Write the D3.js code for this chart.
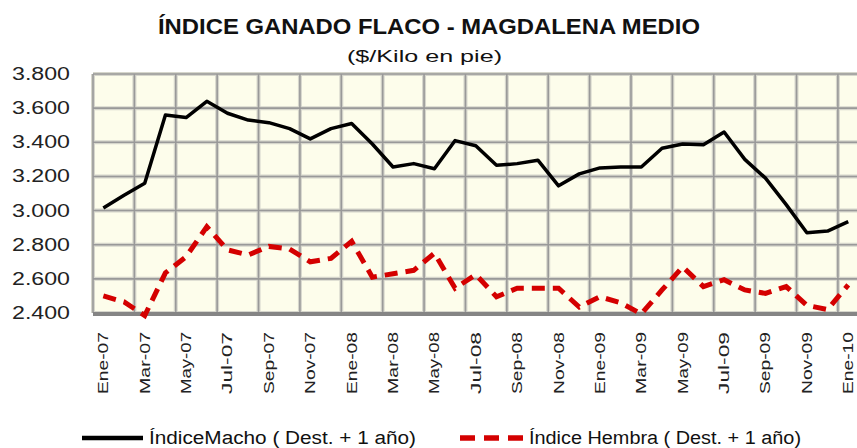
<!DOCTYPE html>
<html>
<head>
<meta charset="utf-8">
<script src="https://cdn.jsdelivr.net/npm/d3@7"></script>
<style>
  body { margin: 0; background: #fff; }
  svg { display: block; font-family: "Liberation Sans", Arial, sans-serif; }
</style>
</head>
<body>
<div id="chart"></div>
<script>

// meses (categorias)
var meses = ["Ene-07","Feb-07","Mar-07","Abr-07","May-07","Jun-07","Jul-07","Ago-07","Sep-07","Oct-07","Nov-07","Dic-07",
             "Ene-08","Feb-08","Mar-08","Abr-08","May-08","Jun-08","Jul-08","Ago-08","Sep-08","Oct-08","Nov-08","Dic-08",
             "Ene-09","Feb-09","Mar-09","Abr-09","May-09","Jun-09","Jul-09","Ago-09","Sep-09","Oct-09","Nov-09","Dic-09",
             "Ene-10"];

// indice macho ($/kilo)
var macho = [3015,3090,3160,3560,3545,3640,3570,3530,3515,3480,3420,3480,
             3510,3390,3255,3275,3245,3410,3380,3265,3275,3295,3145,3215,
             3250,3255,3255,3365,3390,3385,3460,3300,3190,3035,2870,2880,
             2935];

// indice hembra ($/kilo)
var hembra = [2500,2465,2385,2635,2730,2905,2770,2740,2790,2775,2700,2720,
              2820,2610,2630,2650,2750,2545,2625,2495,2545,2545,2545,2435,
              2495,2460,2395,2535,2670,2555,2595,2535,2515,2555,2445,2420,
              2565];

var yTicks = [2400,2600,2800,3000,3200,3400,3600,3800];

var W = 857, H = 448;
var plot = {left: 93, right: 858.6, top: 74, bottom: 313};

var svg = d3.select("#chart").append("svg")
    .attr("width", W)
    .attr("height", H);

var x = d3.scaleBand().domain(meses).range([plot.left, plot.right]);
var xc = function(d){ return x(d) + x.bandwidth()/2; };
var y = d3.scaleLinear().domain([2400, 3800]).range([plot.bottom, plot.top]);

// titulo
svg.append("text")
  .attr("x", 158).attr("y", 34)
  .attr("textLength", 542).attr("lengthAdjust", "spacingAndGlyphs")
  .style("font-size", "22px").style("font-weight", "bold").style("fill", "#111")
  .text("ÍNDICE GANADO FLACO - MAGDALENA MEDIO");

svg.append("text")
  .attr("x", 347).attr("y", 62)
  .attr("textLength", 155).attr("lengthAdjust", "spacingAndGlyphs")
  .style("font-size", "17px").style("fill", "#111")
  .text("($/Kilo en pie)");

// fondo del area
svg.append("rect")
  .attr("x", plot.left).attr("y", plot.top)
  .attr("width", plot.right - plot.left).attr("height", plot.bottom - plot.top)
  .style("fill", "#fdfdeb");

var grid = svg.append("g");
var vIdx = meses.filter(function(d, i){ return i % 2 == 0; });

// halo + linea (las lineas de la imagen se ven borrosas)
[["#d6d6cc", 4], ["#999", 1.6]].forEach(function(s){
  grid.selectAll(null).data(yTicks).enter().append("line")
    .attr("x1", plot.left).attr("x2", plot.right)
    .attr("y1", function(d){ return y(d); }).attr("y2", function(d){ return y(d); })
    .style("stroke", s[0]).style("stroke-width", s[1]);
  grid.selectAll(null).data(vIdx).enter().append("line")
    .attr("x1", function(d){ return x(d); }).attr("x2", function(d){ return x(d); })
    .attr("y1", plot.top).attr("y2", plot.bottom)
    .style("stroke", s[0]).style("stroke-width", s[1]);
});

// eje inferior
svg.append("line")
  .attr("x1", plot.left).attr("x2", plot.right)
  .attr("y1", plot.bottom + 1).attr("y2", plot.bottom + 1)
  .style("stroke", "#858585").style("stroke-width", 4);

// etiquetas eje y
svg.selectAll(".ylab").data(yTicks).enter().append("text")
  .attr("class", "ylab")
  .attr("x", 70).attr("y", function(d){ return y(d) + 6; })
  .attr("text-anchor", "end")
  .attr("textLength", 58).attr("lengthAdjust", "spacingAndGlyphs")
  .style("font-size", "17.5px").style("fill", "#222")
  .text(function(d){ return d3.format(",")(d).replace(",", "."); });

// etiquetas eje x (cada 2 meses, verticales)
svg.selectAll(".xlab").data(vIdx).enter().append("text")
  .attr("class", "xlab")
  .attr("transform", function(d){ return "translate(" + (xc(d) + 5) + "," + 332 + ") rotate(-90)"; })
  .attr("text-anchor", "end")
  .attr("textLength", 62).attr("lengthAdjust", "spacingAndGlyphs")
  .style("font-size", "15px").style("fill", "#222")
  .text(function(d){ return d; });

var linea = d3.line()
  .x(function(d, i){ return xc(meses[i]); })
  .y(function(d){ return y(d); });

svg.append("path")
  .attr("d", linea(hembra))
  .style("fill", "none")
  .style("stroke", "#d40000")
  .style("stroke-width", 5)
  .style("stroke-dasharray", "13,8");

svg.append("path")
  .attr("d", linea(macho))
  .style("fill", "none")
  .style("stroke", "#000")
  .style("stroke-width", 3.5)
  .style("stroke-linejoin", "round");

// leyenda
svg.append("line")
  .attr("x1", 82).attr("x2", 143).attr("y1", 438).attr("y2", 438)
  .style("stroke", "#000").style("stroke-width", 4.5);
svg.append("text")
  .attr("x", 149).attr("y", 444)
  .attr("textLength", 267).attr("lengthAdjust", "spacingAndGlyphs")
  .style("font-size", "18px").style("fill", "#111")
  .text("ÍndiceMacho ( Dest. + 1 año)");

svg.append("line")
  .attr("x1", 460).attr("x2", 523).attr("y1", 438).attr("y2", 438)
  .style("stroke", "#d40000").style("stroke-width", 5.5)
  .style("stroke-dasharray", "15,9");
svg.append("text")
  .attr("x", 529).attr("y", 444)
  .attr("textLength", 272).attr("lengthAdjust", "spacingAndGlyphs")
  .style("font-size", "18px").style("fill", "#111")
  .text("Índice Hembra ( Dest. + 1 año)");

</script>
</body>
</html>
